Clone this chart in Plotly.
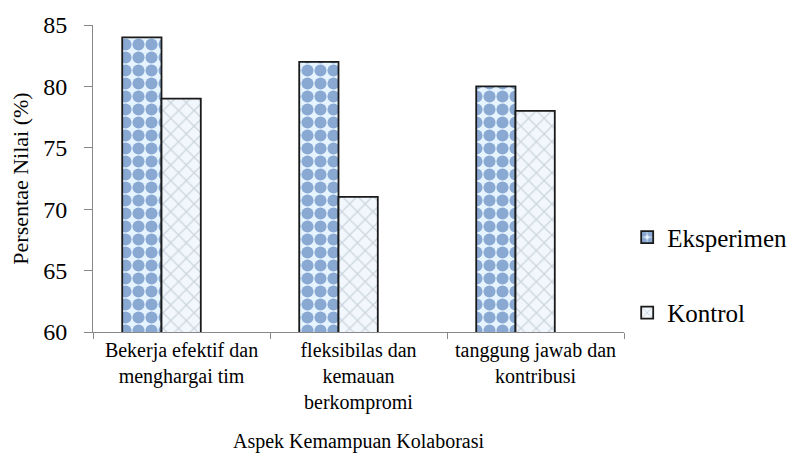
import plotly.graph_objects as go

categories = ["Bekerja efektif dan<br>menghargai tim", "fleksibilas dan<br>kemauan<br>berkompromi", "tanggung jawab dan<br>kontribusi"]
eksperimen = [84, 82, 80]
kontrol = [79, 71, 78]
yticks = [60, 65, 70, 75, 80, 85]

FONT = "Liberation Serif"

fig = go.Figure()
fig.add_trace(go.Bar(
    name="Eksperimen", x=categories, y=eksperimen, legendgroup="a",
    offset=-0.335, width=0.222,
    marker=dict(color="#e8f6ff", line=dict(color="#1a1a1a", width=1.8),
                pattern=dict(shape=".", fgcolor="#2c5ca6", bgcolor="#e6f4ff", size=13, solidity=0.68)),
))
fig.add_trace(go.Bar(
    name="Kontrol", x=categories, y=kontrol, legendgroup="b",
    offset=-0.113, width=0.222,
    marker=dict(color="#eef4fa", line=dict(color="#1a1a1a", width=1.8),
                pattern=dict(shape="x", fgcolor="#a7b3c0", bgcolor="#f1f7fc", size=11, solidity=0.22)),
))

fig.update_layout(
    width=798, height=453,
    margin=dict(l=93, r=174, t=25, b=121, autoexpand=False),
    paper_bgcolor="white", plot_bgcolor="white",
    barmode="overlay",
    font=dict(family=FONT, color="black"),
    legend=dict(x=1.006, y=0.186, xanchor="left", yanchor="middle",
                font=dict(size=25, family=FONT, color="black"), traceorder="grouped", tracegroupgap=40,
                itemwidth=30),
)
fig.update_xaxes(
    automargin=False,
    showline=True, linecolor="#888888", linewidth=1,
    ticks="outside", tickson="boundaries", ticklen=6, tickcolor="#888888",
    tickfont=dict(size=20, family=FONT, color="black"),
    title=dict(text="Aspek Kemampuan Kolaborasi", font=dict(size=20, family=FONT, color="black"), standoff=20),
)
fig.update_yaxes(
    automargin=False,
    range=[60, 85], tickvals=yticks, showgrid=False, zeroline=False,
    showline=True, linecolor="#888888", linewidth=1,
    ticks="outside", ticklen=8, tickcolor="#888888", ticklabelstandoff=12,
    tickfont=dict(size=24, family=FONT, color="black"),
    title=dict(text="Persentae Nilai (%)", font=dict(size=22, family=FONT, color="black"), standoff=8),
)

fig.write_html("out.html")
